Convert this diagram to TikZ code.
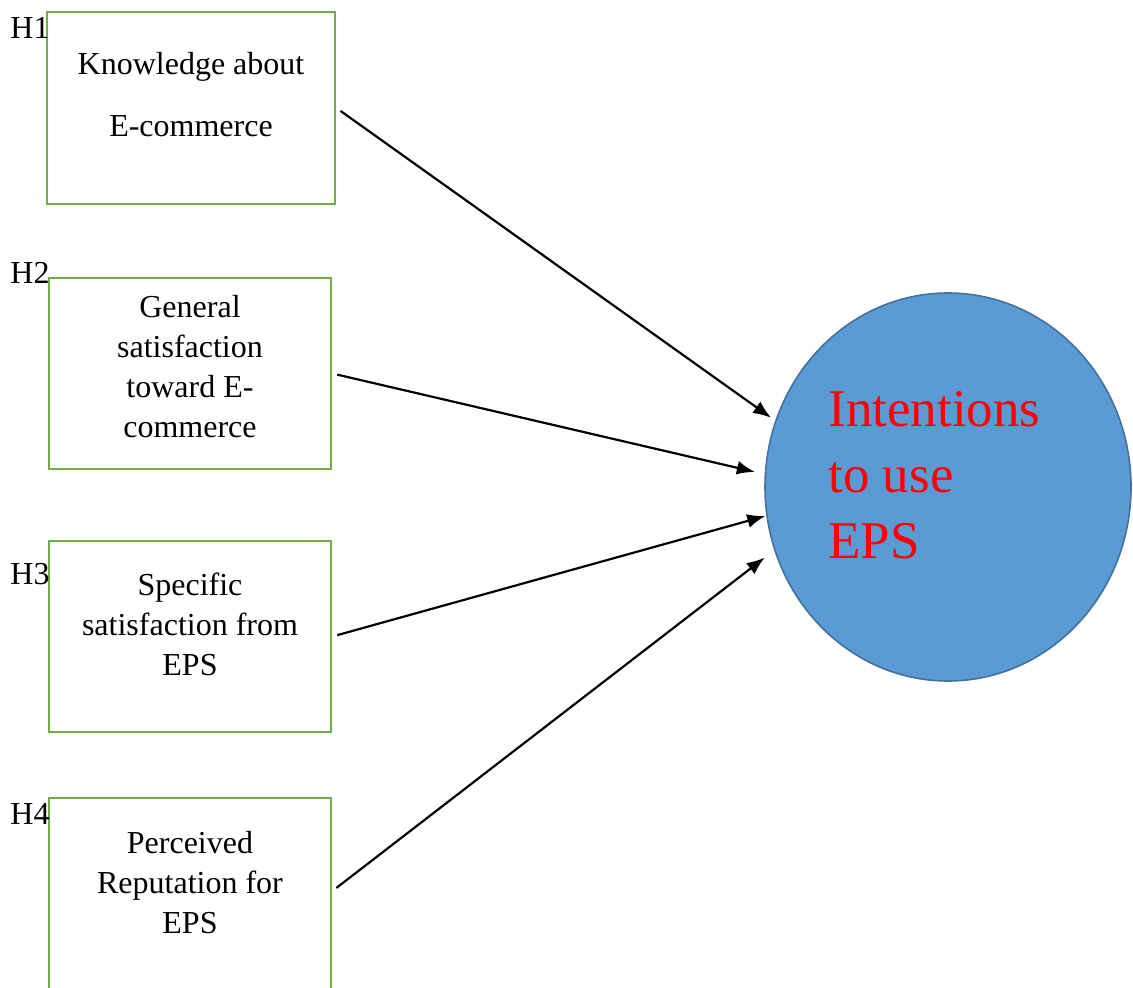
\documentclass[tikz,border=0pt]{standalone}
\usepackage{fontspec}
\setmainfont{Liberation Serif}
\usetikzlibrary{shapes.geometric,arrows.meta}
\definecolor{boxgreen}{HTML}{70AD47}
\definecolor{epsblue}{HTML}{5B9BD5}
\definecolor{epsedge}{HTML}{41719C}
\begin{document}
\begin{tikzpicture}[x=0.5pt,y=-0.5pt]
\tikzset{ >={Latex[length=9pt,width=7pt]},
  varbox/.style={draw=boxgreen, line width=1.4pt, rectangle, inner sep=0pt, minimum width=141pt, minimum height=95.5pt},
  vartext/.style={align=center, inner sep=0pt, font=\fontsize{16}{20}\selectfont},
  hlabel/.style={anchor=west, inner sep=0pt, font=\fontsize{16}{19}\selectfont},
  link/.style={->, line width=1.1pt, shorten <=2.5pt},
}

\useasboundingbox (0,0) rectangle (1133,988);
\clip (0,0) rectangle (1133,988);

%%% Blocks

% H1 knowledge
\node [varbox, minimum width=144pt, minimum height=96pt] (know) at (191,108) { };
\node [vartext, font=\fontsize{16}{31}\selectfont] (knowtxt) at (191,95) {Knowledge about\\E-commerce};
\node [hlabel] (h1) at (10,28) {H1};

% H2 general satisfaction
\node [varbox] (gensat) at (190,373.5) { };
\node [vartext] (gensattxt) at (190,367) {General\\satisfaction\\toward E-\\commerce};
\node [hlabel] (h2) at (10,273) {H2};

% H3 specific satisfaction
\node [varbox] (specsat) at (190,636.5) { };
\node [vartext] (specsattxt) at (190,624.5) {Specific\\satisfaction from\\EPS};
\node [hlabel] (h3) at (10,574) {H3};

% H4 reputation
\node [varbox, minimum height=110pt] (reput) at (190,908) { };
\node [vartext] (reputtxt) at (190,883) {Perceived\\Reputation for\\EPS};
\node [hlabel] (h4) at (10,814) {H4};

% intentions to use EPS
\node [ellipse, draw=epsedge, fill=epsblue, line width=0.8pt, inner sep=0pt,
       minimum width=183pt, minimum height=194pt] (eps) at (948,487) { };
\node [anchor=west, align=left, inner sep=0pt, text=red,
       font=\fontsize{26.5}{33}\selectfont] (epstxt) at (828,475) {Intentions\\to use\\EPS};

%%% Lines

\draw [link, shorten >=2.5pt] (know.east)    -- (eps.159);
\draw [link, shorten >=5pt]   (gensat.east)  -- (eps.176);
\draw [link, shorten >=0.5pt] (specsat.east) -- (eps.189.6);
\draw [link, shorten >=6pt]   (reput.east |- 0,891) -- (eps.200.6);

\end{tikzpicture}
\end{document}
